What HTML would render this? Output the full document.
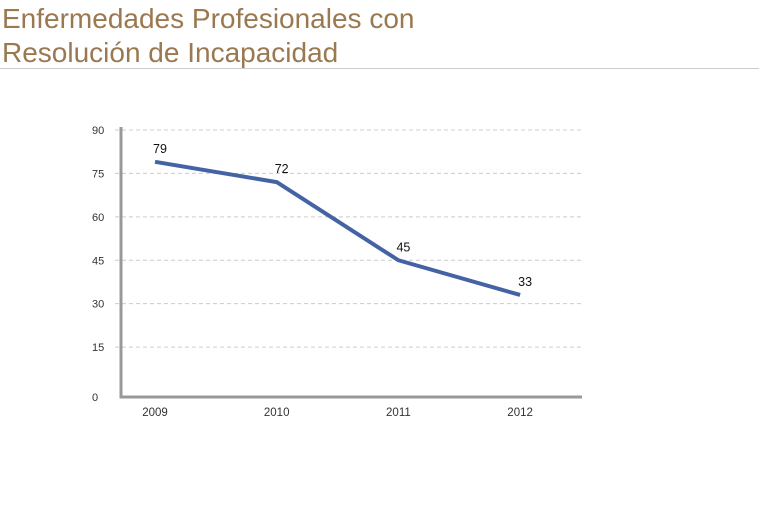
<!DOCTYPE html>
<html><head><meta charset="utf-8"><style>
body{margin:0;background:#fff;width:759px;height:508px;overflow:hidden;font-family:"Liberation Sans",sans-serif}
#title{position:absolute;left:2px;top:2px;font-size:28px;line-height:34px;color:#9a7850;font-weight:normal;letter-spacing:0px}
#rule{position:absolute;left:0;top:68px;width:759px;height:1px;background:#ccc}
</style></head><body>
<div id="title">Enfermedades Profesionales con<br>Resolución de Incapacidad</div>
<div id="rule"></div>
<svg id="chart" width="759" height="508" style="position:absolute;left:0;top:0"></svg>
<script>
const categories=["2009","2010","2011","2012"];
const values=[79,72,45,33];
const yTicks=[0,15,30,45,60,75,90];
const ns="http://www.w3.org/2000/svg";
const svg=document.getElementById('chart');
const x0=121,x1=582,yTop=130,yZero=390.5,yBot=397;
const y=v=>yZero-(v/90)*(yZero-yTop);
const xp=i=>155+i*121.7;
function mk(t,a,p){const e=document.createElementNS(ns,t);for(const k in a)e.setAttribute(k,a[k]);(p||svg).appendChild(e);return e;}
yTicks.forEach(v=>{
  const yy=v===0?yBot:y(v);
  if(v>0){const g=mk('line',{x1:x0-6,x2:x1,y1:yy,y2:yy,stroke:'#ccc','stroke-dasharray':'4,3','stroke-width':1});
  
  }
  const t=mk('text',{x:92,y:yy+4,'font-size':11,fill:'#333'});t.textContent=v;
  
  
});
const ax=mk('path',{d:`M${x0} 127 V${yBot} H${x1}`,stroke:'#999','stroke-width':3,fill:'none'});


categories.forEach((c,i)=>{
  const t=mk('text',{x:xp(i),y:416,'font-size':11.5,fill:'#333','text-anchor':'middle'});t.textContent=c;
  
  
});
const ln=mk('polyline',{points:values.map((v,i)=>xp(i)+','+y(v)).join(' '),stroke:'#4463a5','stroke-width':4,fill:'none','stroke-linejoin':'round'});


values.forEach((v,i)=>{
  const t=mk('text',{x:xp(i)+5,y:y(v)-9,'font-size':12.5,fill:'#111','text-anchor':'middle'});t.textContent=v;
  
  
});
</script>
</body></html>
